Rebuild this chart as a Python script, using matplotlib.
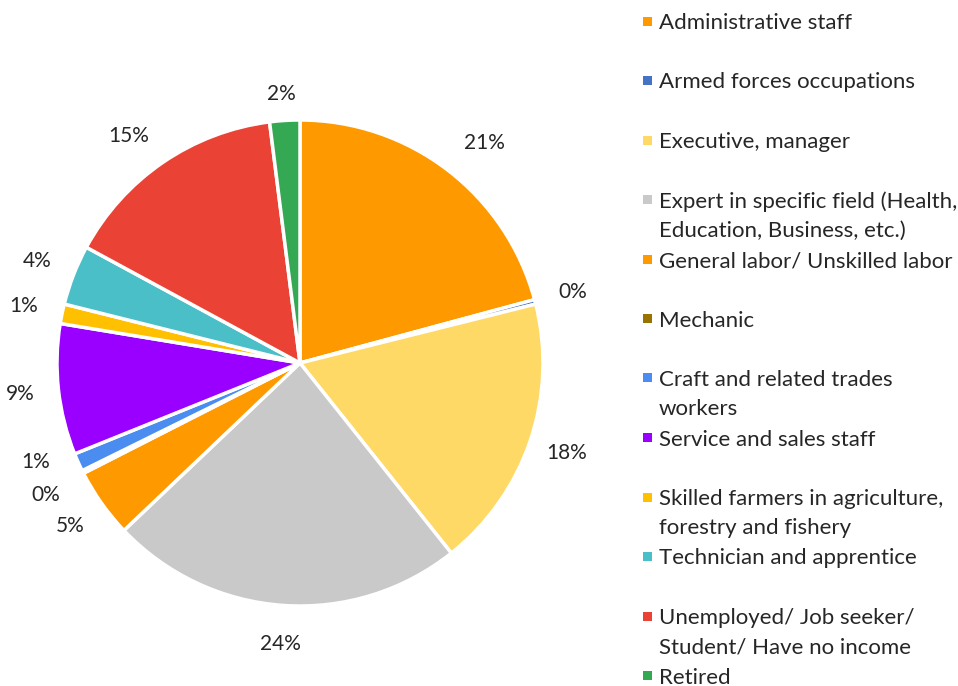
import numpy as np
import matplotlib.pyplot as plt
from matplotlib.patches import Rectangle

plt.rcParams['font.family'] = ['Lato', 'DejaVu Sans']

# occupation shares (%)
labels = ['Administrative staff', 'Armed forces occupations', 'Executive, manager',
          'Expert in specific field (Health,\nEducation, Business, etc.)',
          'General labor/ Unskilled labor', 'Mechanic',
          'Craft and related trades\nworkers', 'Service and sales staff',
          'Skilled farmers in agriculture,\nforestry and fishery',
          'Technician and apprentice',
          'Unemployed/ Job seeker/\nStudent/ Have no income', 'Retired']
shares = [20.8, 0.3, 18.2, 23.6, 4.6, 0.2, 1.2, 8.7, 1.3, 4.0, 15.1, 2.0]
colors = ['#FF9900', '#4472C4', '#FFD966', '#C9C9C9', '#FF9900', '#997300',
          '#4A8CF0', '#9900FF', '#FFC000', '#4BBFC7', '#EA4335', '#34A853']

W, H = 958, 686
fig = plt.figure(figsize=(W / 100, H / 100), dpi=100)

# pie centred at (300, 363) px, radius 243 px
R = 243
lim = 1.2
size = 2 * lim * R
ax = fig.add_axes([(300 - size / 2) / W, (H - 363 - size / 2) / H, size / W, size / H])

pct = [f'{round(v)}%' for v in shares]
wedges, texts = ax.pie(shares, labels=pct, colors=colors, startangle=90, counterclock=False,
                       labeldistance=1.16, radius=1,
                       wedgeprops=dict(edgecolor='white', linewidth=2.5),
                       textprops=dict(fontsize=15, color='#262626'))
for t in texts:
    t.set_ha('center')
    t.set_va('center')


def place(t, deg, r):
    a = np.deg2rad(deg)
    t.set_position((r * np.cos(a), r * np.sin(a)))


# spread the labels of the crowded small slices
place(texts[6], -159.5, 1.16)
place(texts[5], -152.5, 1.18)
place(texts[11], 94.0, 1.11)
place(texts[10], 127.0, 1.17)
place(texts[0], 50.0, 1.18)

ax.set_xlim(-lim, lim)
ax.set_ylim(-lim, lim)
ax.set_aspect('equal')
ax.axis('off')

# legend, two text lines per slot
base = 29
slot = 59.5
line = 29
for i, (lab, c) in enumerate(zip(labels, colors)):
    y0 = base + i * slot
    fig.patches.append(Rectangle((643 / W, 1 - (y0 - 3.5) / H), 9 / W, 9 / H,
                                 transform=fig.transFigure, facecolor=c, edgecolor='none'))
    for j, part in enumerate(lab.split('\n')):
        fig.text(659 / W, 1 - (y0 + j * line) / H, part, fontsize=16, color='#262626',
                 va='baseline', ha='left', transform=fig.transFigure)

fig.savefig('out.png', dpi=100)
